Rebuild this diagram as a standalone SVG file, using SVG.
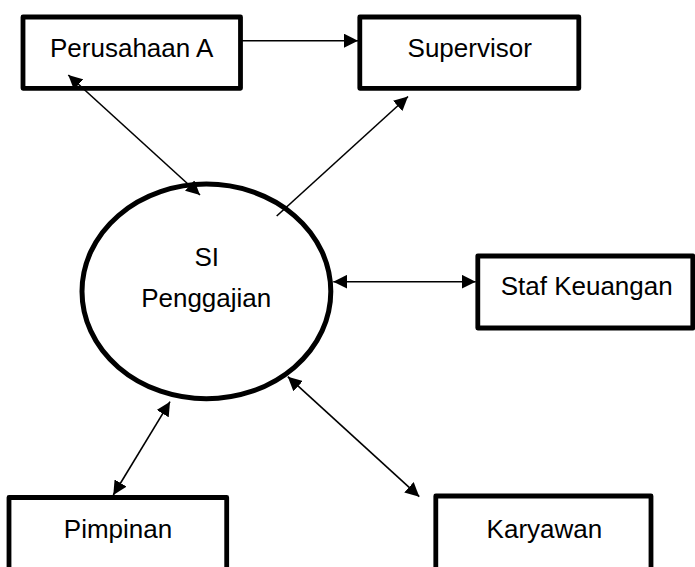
<svg xmlns="http://www.w3.org/2000/svg" width="695" height="567" viewBox="0 0 695 567">
<style>
.box{fill:#fff;stroke:#000;stroke-width:4.8;stroke-linejoin:round}
.proc{fill:#fff;stroke:#000;stroke-width:5}
.lbl{font-family:"Liberation Sans",Arial,sans-serif;font-size:26px;fill:#000;text-anchor:middle}
.conn{stroke:#000;stroke-width:1.6;fill:none}
</style>
<defs>
<marker id="ah" viewBox="0 0 14 14" refX="14" refY="7" markerWidth="14" markerHeight="14" markerUnits="userSpaceOnUse" orient="auto-start-reverse">
<path d="M0,0 L14,7 L0,14 z" fill="#000"/>
</marker>
</defs>
<rect width="695" height="567" fill="#fff"/>
<g id="perusahaan">
<rect class="box" x="23" y="17" width="217.5" height="71.3"/>
<text class="lbl" x="131.7" y="56.7">Perusahaan A</text>
</g>
<g id="supervisor">
<rect class="box" x="359.8" y="17" width="219" height="71.3"/>
<text class="lbl" x="469.7" y="57">Supervisor</text>
</g>
<g id="si-penggajian">
<ellipse class="proc" cx="206.4" cy="291.4" rx="124.4" ry="107.3"/>
<text class="lbl" x="206.7" y="265.7">SI</text>
<text class="lbl" x="206.2" y="306.7">Penggajian</text>
</g>
<g id="staf-keuangan">
<rect class="box" x="477.8" y="256" width="215" height="72"/>
<text class="lbl" x="586.7" y="295">Staf Keuangan</text>
</g>
<g id="pimpinan">
<rect class="box" x="9" y="497.5" width="217.7" height="90"/>
<text class="lbl" x="118" y="537.7">Pimpinan</text>
</g>
<g id="karyawan">
<rect class="box" x="435.8" y="496" width="215.2" height="90"/>
<text class="lbl" x="544.4" y="538">Karyawan</text>
</g>
<g id="connectors">
<line class="conn" x1="242" y1="40.7" x2="358" y2="40.7" marker-end="url(#ah)"/>
<line class="conn" x1="68.3" y1="75" x2="200" y2="195" marker-start="url(#ah)" marker-end="url(#ah)"/>
<line class="conn" x1="276.7" y1="216" x2="408" y2="96.5" marker-end="url(#ah)"/>
<line class="conn" x1="333.3" y1="281.7" x2="475.7" y2="281.7" marker-start="url(#ah)" marker-end="url(#ah)"/>
<line class="conn" x1="170" y1="401.7" x2="113.3" y2="495" marker-start="url(#ah)" marker-end="url(#ah)"/>
<line class="conn" x1="287.8" y1="376.7" x2="419.3" y2="496.7" marker-start="url(#ah)" marker-end="url(#ah)"/>
</g>
</svg>
